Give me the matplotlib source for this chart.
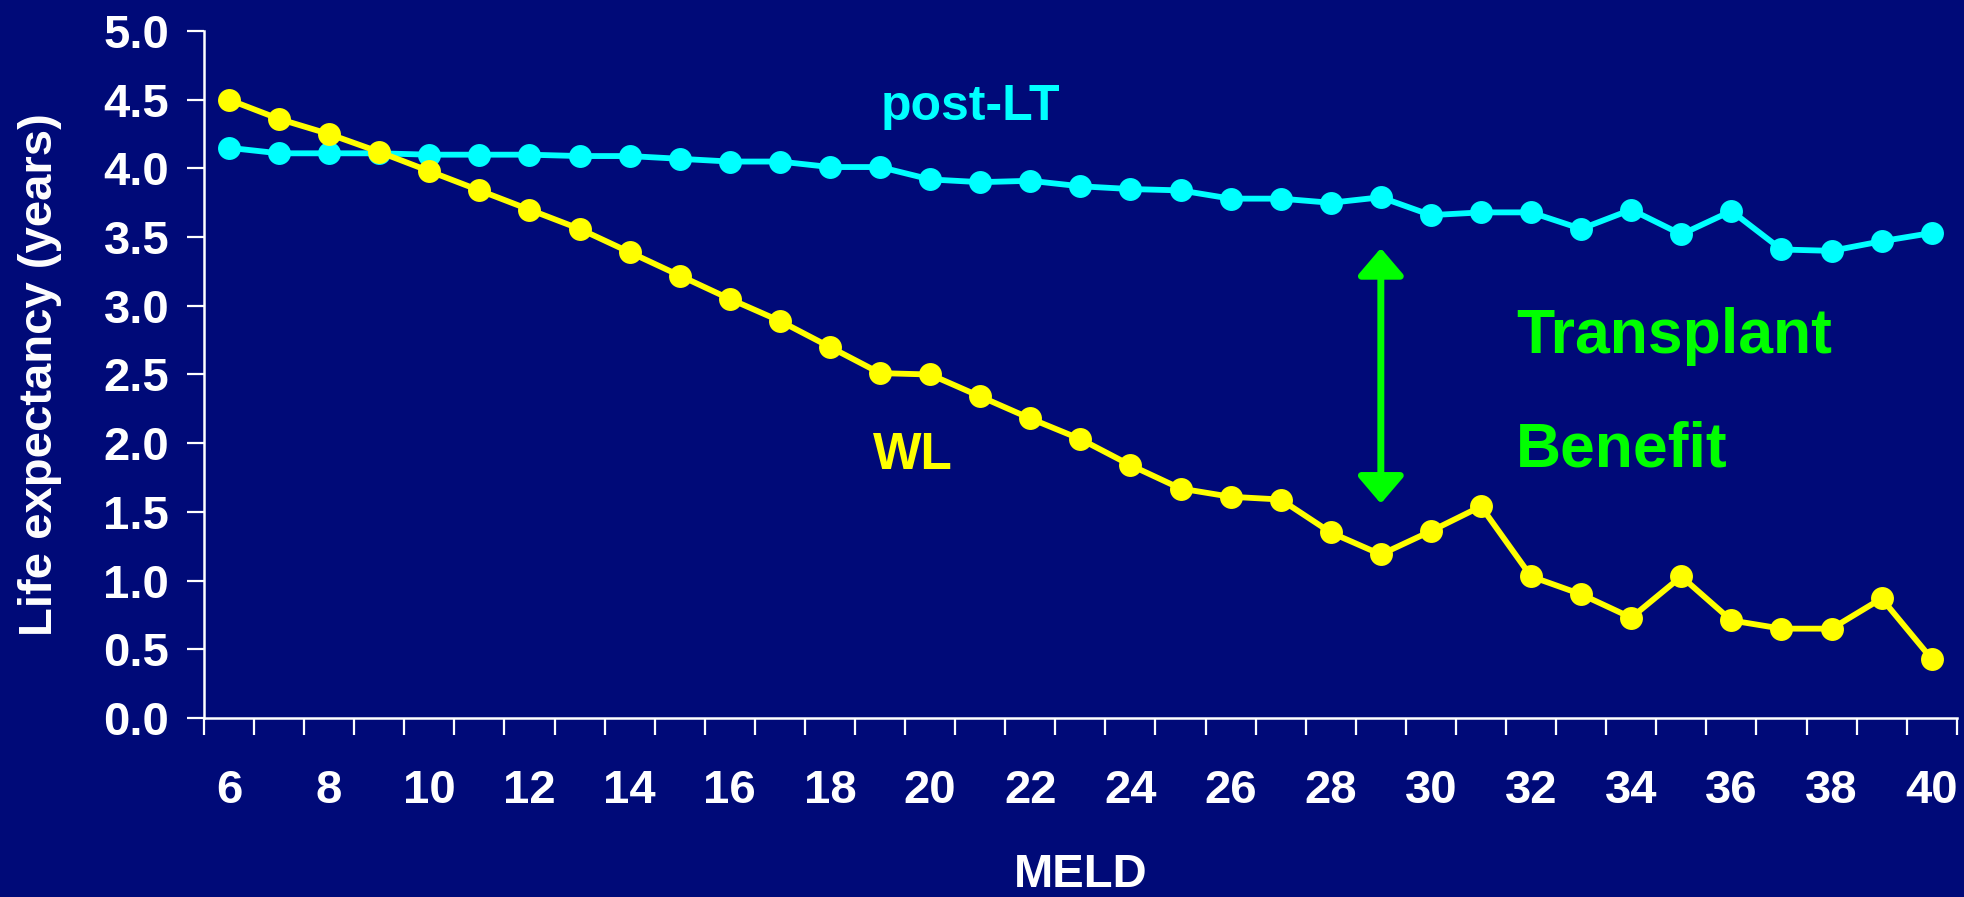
#!/usr/bin/env python3
"""Life expectancy on the waiting list vs. after liver transplant, by MELD score."""

import matplotlib.pyplot as plt
import numpy as np
from matplotlib.patches import FancyArrowPatch, ArrowStyle

meld = list(range(6, 41))

post_lt = [
    4.15, 4.11, 4.11, 4.11, 4.10, 4.10, 4.10, 4.09, 4.09, 4.07,
    4.05, 4.05, 4.01, 4.01, 3.92, 3.90, 3.91, 3.87, 3.85, 3.84,
    3.78, 3.78, 3.75, 3.79, 3.66, 3.68, 3.68, 3.56, 3.70, 3.52,
    3.69, 3.41, 3.40, 3.47, 3.53,
]

waiting_list = [
    4.50, 4.36, 4.25, 4.12, 3.98, 3.84, 3.70, 3.56, 3.39, 3.22,
    3.05, 2.89, 2.70, 2.51, 2.50, 2.34, 2.18, 2.03, 1.84, 1.67,
    1.61, 1.59, 1.35, 1.19, 1.36, 1.54, 1.03, 0.90, 0.73, 1.03,
    0.71, 0.65, 0.65, 0.87, 0.43,
]

y_ticks = [0.0, 0.5, 1.0, 1.5, 2.0, 2.5, 3.0, 3.5, 4.0, 4.5, 5.0]
x_tick_labels = list(range(6, 41, 2))

# benefit arrow spans the gap at MELD 29
benefit_meld = 29
benefit_low = 1.56
benefit_high = 3.42

BG = "#000A78"
CYAN = "#00FFFF"
YELLOW = "#FFFF00"
GREEN = "#00FF00"
WHITE = "#FFFFFF"


def main():
    plt.rcParams["font.family"] = ["Liberation Sans", "DejaVu Sans"]
    plt.rcParams["font.weight"] = "bold"

    fig = plt.figure(figsize=(19.65, 8.97), dpi=100, facecolor=BG)
    ax = fig.add_axes([0.1038, 0.1996, 0.892, 0.7658])
    ax.set_facecolor(BG)

    ax.plot(meld, post_lt, color=CYAN, linewidth=4.2, marker="o",
            markersize=16.5, markeredgewidth=0, zorder=3)
    ax.plot(meld, waiting_list, color=YELLOW, linewidth=4.2, marker="o",
            markersize=16.5, markeredgewidth=0, zorder=3)

    ax.set_xlim(5.5, 40.5)
    ax.set_ylim(0, 5)

    ax.set_yticks(y_ticks)
    ax.set_yticklabels([f"{v:.1f}" for v in y_ticks])
    ax.set_xticks(x_tick_labels)
    ax.set_xticklabels([str(v) for v in x_tick_labels])
    ax.set_xticks(np.arange(5.5, 41.0, 1.0), minor=True)

    ax.tick_params(axis="x", which="major", length=0, pad=37,
                   labelsize=34, labelcolor=WHITE)
    ax.tick_params(axis="x", which="minor", length=12, width=1.6,
                   color=WHITE, direction="out")
    ax.tick_params(axis="y", which="major", length=12, width=1.6,
                   color=WHITE, direction="out", pad=13,
                   labelsize=34, labelcolor=WHITE)

    for side in ("top", "right"):
        ax.spines[side].set_visible(False)
    for side in ("left", "bottom"):
        ax.spines[side].set_color(WHITE)
        ax.spines[side].set_linewidth(1.8)

    ax.set_ylabel("Life expectancy (years)", fontsize=34, color=WHITE,
                  fontweight="bold")
    ax.yaxis.set_label_coords(-0.081, 0.5)
    ax.set_xlabel("MELD", fontsize=34, color=WHITE, fontweight="bold")
    ax.xaxis.set_label_coords(0.5, -0.196)

    ax.text(20.81, 4.35, "post-LT", color=CYAN, fontsize=36,
            fontweight="bold", ha="center", va="baseline")
    ax.text(19.66, 1.81, "WL", color=YELLOW, fontsize=37,
            fontweight="bold", ha="center", va="baseline")
    ax.text(31.7, 2.66, "Transplant", color=GREEN, fontsize=45,
            fontweight="bold", ha="left", va="baseline")
    ax.text(31.7, 1.83, "Benefit", color=GREEN, fontsize=45,
            fontweight="bold", ha="left", va="baseline")

    arrow = FancyArrowPatch(
        (benefit_meld, benefit_low), (benefit_meld, benefit_high),
        arrowstyle=ArrowStyle("<|-|>", head_length=0.41, head_width=0.35),
        mutation_scale=40, color=GREEN, linewidth=5,
        shrinkA=0, shrinkB=0, zorder=4,
    )
    ax.add_patch(arrow)

    fig.savefig("out.png", dpi=100, facecolor=BG)
    plt.close(fig)


if __name__ == "__main__":
    main()
